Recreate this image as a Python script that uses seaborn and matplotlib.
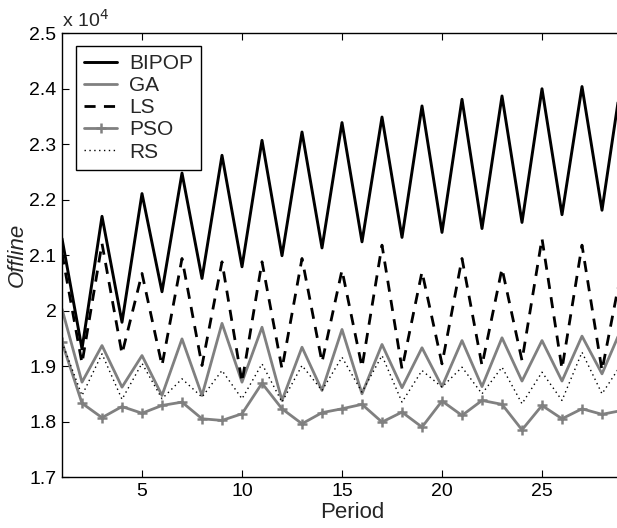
import numpy as np
import pandas as pd
import matplotlib
matplotlib.use("Agg")
import matplotlib.pyplot as plt
import seaborn as sns
from matplotlib.ticker import FuncFormatter, FixedLocator

# Values in units of 10^4
periods = list(range(1, 30))
bipop = [2.130, 1.931, 2.170, 1.979, 2.211, 2.034, 2.248, 2.058, 2.280, 2.079,
         2.307, 2.099, 2.322, 2.113, 2.339, 2.124, 2.349, 2.132, 2.369, 2.141,
         2.381, 2.148, 2.387, 2.159, 2.400, 2.173, 2.404, 2.181, 2.424]
ga = [2.003, 1.871, 1.937, 1.862, 1.919, 1.847, 1.949, 1.847, 1.977, 1.871,
      1.970, 1.838, 1.934, 1.856, 1.966, 1.850, 1.939, 1.861, 1.933, 1.863,
      1.946, 1.863, 1.951, 1.873, 1.946, 1.873, 1.954, 1.886, 1.970]
ls = [2.103, 1.905, 2.121, 1.922, 2.067, 1.901, 2.094, 1.901, 2.088, 1.871,
      2.088, 1.895, 2.094, 1.907, 2.073, 1.898, 2.118, 1.895, 2.070, 1.904,
      2.094, 1.901, 2.076, 1.910, 2.130, 1.895, 2.118, 1.892, 2.078]
pso = [1.943, 1.833, 1.807, 1.827, 1.815, 1.829, 1.835, 1.805, 1.802, 1.814,
       1.869, 1.823, 1.796, 1.816, 1.823, 1.831, 1.799, 1.817, 1.790, 1.837,
       1.811, 1.838, 1.831, 1.785, 1.829, 1.805, 1.823, 1.813, 1.820]
rs = [1.943, 1.847, 1.922, 1.840, 1.905, 1.841, 1.877, 1.844, 1.892, 1.841,
      1.904, 1.835, 1.901, 1.856, 1.916, 1.853, 1.919, 1.835, 1.892, 1.862,
      1.898, 1.850, 1.898, 1.832, 1.889, 1.838, 1.925, 1.850, 1.905]

x_ticks = [5, 10, 15, 20, 25]
y_ticks = [1.7, 1.8, 1.9, 2.0, 2.1, 2.2, 2.3, 2.4, 2.5]

sns.set_style("ticks")
plt.rcParams['font.family'] = ['Liberation Sans', 'DejaVu Sans']

W, H = 617, 528
fig = plt.figure(figsize=(W / 100, H / 100), dpi=100)
left, right_px, top, bottom = 62, 642, 33.3, 477
ax = fig.add_axes([left / W, (H - bottom) / H, (right_px - left) / W, (bottom - top) / H])

gray = "#808080"
styles = [
    ("BIPOP", bipop, dict(color="black", linewidth=2.1, linestyle="-")),
    ("GA", ga, dict(color=gray, linewidth=2.0, linestyle="-")),
    ("LS", ls, dict(color="black", linewidth=2.0, linestyle=(0, (4, 3)))),
    ("PSO", pso, dict(color=gray, linewidth=2.0, linestyle="-", marker="+",
                      markersize=7, markeredgewidth=1.8,
                      markeredgecolor=gray, markerfacecolor=gray)),
    ("RS", rs, dict(color="black", linewidth=1.0, linestyle=(0, (1, 2.5)))),
]
for name, vals, kw in styles:
    df = pd.DataFrame({"Period": periods, "Offline": vals})
    sns.lineplot(data=df, x="Period", y="Offline", ax=ax, label=name, **kw)

ax.set_xlim(1, 30)
ax.set_ylim(1.7, 2.5)
ax.xaxis.set_major_locator(FixedLocator(x_ticks))
ax.yaxis.set_major_locator(FixedLocator(y_ticks))
ax.yaxis.set_major_formatter(FuncFormatter(lambda v, p: f"{v:g}"))
ax.tick_params(direction="in", top=True, right=True, length=5, width=0.8,
               labelsize=14, pad=4, colors="black")
for s in ax.spines.values():
    s.set_linewidth(1.0)
    s.set_color("black")

ax.set_xlabel("Period", fontsize=16, labelpad=2)
ax.set_ylabel("Offline", fontsize=16, fontstyle="italic", labelpad=1)
fig.text(62 / W, 1 - 26.5 / H, r"x 10$^4$", fontsize=14, ha="left", va="baseline")

leg = ax.legend(loc="upper left", fontsize=15,
                frameon=True, fancybox=False, edgecolor="black", framealpha=1,
                handlelength=1.6, handletextpad=0.55, labelspacing=0.15,
                borderpad=0.4, borderaxespad=0)
leg.set_bbox_to_anchor((75.7 / W, 1 - 45.7 / H), transform=fig.transFigure)
leg.get_frame().set_linewidth(1.0)

fig.savefig("out.png", dpi=100)
